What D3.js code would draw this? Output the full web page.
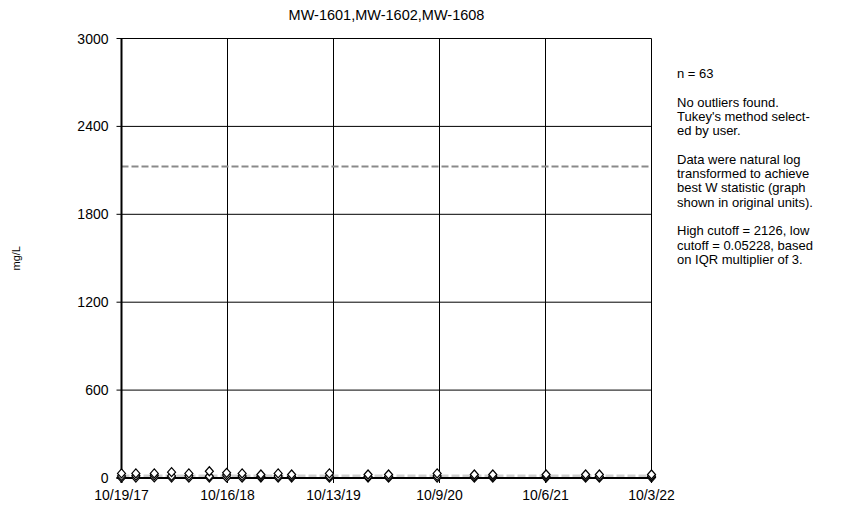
<!DOCTYPE html>
<html>
<head>
<meta charset="utf-8">
<script src="https://cdn.jsdelivr.net/npm/d3@7"></script>
<style>
  body { margin: 0; background: #fff; }
  text { font-family: "Liberation Sans", Arial, sans-serif; fill: #000; }
</style>
</head>
<body>
<div id="chart"></div>
<script>
// sample dates and values (mg/L) for the three wells
const sampleDates = ["2017-10-19", "2017-12-07", "2018-02-08", "2018-04-08", "2018-06-06",
  "2018-08-15", "2018-10-13", "2018-12-05", "2019-02-07", "2019-04-07", "2019-05-23",
  "2019-09-29", "2020-02-08", "2020-04-18", "2020-10-01", "2021-02-05", "2021-04-09",
  "2021-10-08", "2022-02-20", "2022-04-08", "2022-10-03"];
const mw1601 = [31, 31, 31, 40, 31, 46, 35, 31, 24, 31, 24, 31, 24, 24, 31, 24, 24, 24, 24, 24, 24];
const mw1602 = [14, 16, 18, 14, 15, 12, 20, 14, 12, 13, 11, 12, 10, 10, 14, 11, 12, 12, 11, 10, 12];
const mw1608 = [2, 3, 4, 3, 2, 3, 4, 2, 3, 2, 3, 2, 3, 2, 3, 2, 2, 3, 2, 2, 3];
const xTicks = ["2017-10-19", "2018-10-16", "2019-10-13", "2020-10-09", "2021-10-06", "2022-10-03"];
const yTicks = [0, 600, 1200, 1800, 2400, 3000];
const highCutoff = 2126;
const lowCutoff = 0.05228;
const notes = ["n = 63", "", "No outliers found.", "Tukey's method select-", "ed by user.", "",
  "Data were natural log", "transformed to achieve", "best W statistic (graph",
  "shown in original units).", "", "High cutoff = 2126, low", "cutoff = 0.05228, based",
  "on IQR multiplier of 3."];

const width = 850, height = 511;
const plotL = 121.5, plotR = 651.5, plotT = 38.5, plotB = 478;
const parse = d3.timeParse("%Y-%m-%d");
const fmt = d3.timeFormat("%-m/%-d/%y");

const svg = d3.select("#chart").append("svg")
  .attr("width", width)
  .attr("height", height);

const x = d3.scaleTime()
  .domain([parse(xTicks[0]), parse(xTicks[xTicks.length - 1])])
  .range([plotL, plotR]);
const y = d3.scaleLinear()
  .domain([0, 3000])
  .range([plotB, plotT]);

// grid lines + ticks
svg.append("g").selectAll("line").data(yTicks).join("line")
  .attr("x1", plotL - 5).attr("x2", plotR)
  .attr("y1", d => y(d)).attr("y2", d => y(d))
  .attr("stroke", "#000").attr("stroke-width", 1);
svg.append("g").selectAll("line").data(xTicks).join("line")
  .attr("x1", d => x(parse(d))).attr("x2", d => x(parse(d)))
  .attr("y1", plotT).attr("y2", plotB + 5)
  .attr("stroke", "#000").attr("stroke-width", 1);

// tick labels
svg.append("g").selectAll("text").data(yTicks).join("text")
  .attr("x", plotL - 13)
  .attr("y", d => y(d) + 5)
  .attr("text-anchor", "end")
  .attr("font-size", 14)
  .text(d => d);
svg.append("g").selectAll("text").data(xTicks).join("text")
  .attr("x", d => x(parse(d)))
  .attr("y", plotB + 22)
  .attr("text-anchor", "middle")
  .attr("font-size", 14)
  .text(d => fmt(parse(d)));

// cutoff lines
svg.append("line")
  .attr("x1", plotL).attr("x2", plotR)
  .attr("y1", y(highCutoff)).attr("y2", y(highCutoff))
  .attr("stroke", "#8a8a8a").attr("stroke-width", 2)
  .attr("stroke-dasharray", "7,3");
svg.append("line")
  .attr("x1", plotL).attr("x2", plotR)
  .attr("y1", y(lowCutoff) - 2).attr("y2", y(lowCutoff) - 2)
  .attr("stroke", "#cfcfcf").attr("stroke-width", 3)
  .attr("stroke-dasharray", "8,3");

// axes (thicker left/bottom)
svg.append("line")
  .attr("x1", plotL).attr("x2", plotL).attr("y1", plotT).attr("y2", plotB + 5)
  .attr("stroke", "#000").attr("stroke-width", 2);
svg.append("line")
  .attr("x1", plotL - 5).attr("x2", plotR).attr("y1", plotB).attr("y2", plotB)
  .attr("stroke", "#000").attr("stroke-width", 2);

// points
const diamond = "M0,-4.5L4,0L0,4.5L-4,0Z";
[mw1608, mw1602, mw1601].forEach(series => {
  svg.append("g").selectAll("path").data(series).join("path")
    .attr("d", diamond)
    .attr("transform", (d, i) => `translate(${x(parse(sampleDates[i]))},${y(d)})`)
    .attr("fill", "#fff")
    .attr("stroke", "#000")
    .attr("stroke-width", 1.2);
});

// title and axis label
svg.append("text")
  .attr("x", (plotL + plotR) / 2)
  .attr("y", 20)
  .attr("text-anchor", "middle")
  .attr("font-size", 14.5)
  .text("MW-1601,MW-1602,MW-1608");
svg.append("text")
  .attr("transform", `translate(20,${(plotT + plotB) / 2}) rotate(-90)`)
  .attr("text-anchor", "middle")
  .attr("font-size", 11)
  .text("mg/L");

// notes
svg.append("g").selectAll("text").data(notes).join("text")
  .attr("x", 677)
  .attr("y", (d, i) => 78 + i * 14.3)
  .attr("font-size", 13)
  .text(d => d);
</script>
</body>
</html>
